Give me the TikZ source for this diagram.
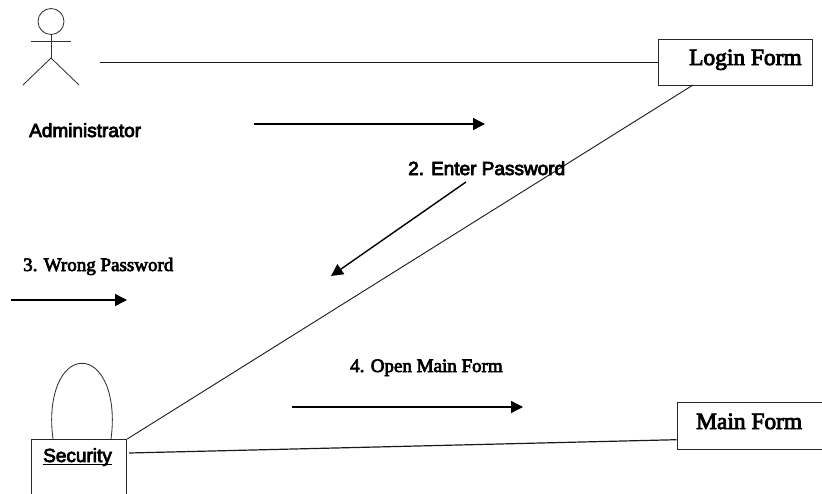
\documentclass[tikz,border=0pt]{standalone}
\usepackage{fontspec}
\setmainfont{Liberation Serif}
\setsansfont{Liberation Sans}
\font\sansbold="Liberation Sans:embolden=4" at 19pt
\font\serifbold="Liberation Serif:embolden=3.5" at 19pt
\font\formbold="Liberation Serif:embolden=3.5" at 23.4pt
\usetikzlibrary{arrows.meta,calc}
\tikzset{
  x=1pt,y=-1pt,
  boxed/.style={draw=black!85,line width=0.9pt,fill=none,rectangle,inner sep=0pt,anchor=north west},
  link/.style={draw=black!90,line width=0.9pt},
  msg/.style={draw=black,line width=1.4pt,-{Stealth[length=12pt,width=12pt,inset=0pt]}},
  stick/.style={draw=black!80,line width=0.85pt},
  sanslabel/.style={inner sep=0pt,anchor=base west,font=\sansbold},
  seriflabel/.style={inner sep=0pt,anchor=base west,font=\serifbold},
  formlabel/.style={inner sep=0pt,anchor=base west,font=\formbold}
}
\begin{document}
\begin{tikzpicture}
\useasboundingbox (0,0) rectangle (822,493);
\clip (0,0) rectangle (822,493);
% actor
\node[draw=black!80,line width=0.85pt,circle,minimum size=26pt,inner sep=0pt] (head) at (51,21.5) {};
\coordinate (hip) at (51,58);
\coordinate (armL) at (31,41);
\coordinate (armR) at (71,41);
\coordinate (footL) at (23,85);
\coordinate (footR) at (79,85);
\draw[stick] (head.south) -- (hip);
\draw[stick] (armL) -- (armR);
\draw[stick] (footL) -- (hip) -- (footR);
\node[sanslabel] (admin) at (29,137) {Administrator};
% boxes
\node[boxed,minimum width=154.5pt,minimum height=46.5pt] (login) at (657.8,38.5) {};
\node[formlabel] (logintext) at (689,65) {Login Form};
\node[boxed,minimum width=200pt,minimum height=47pt] (mainf) at (676.5,402) {};
\node[formlabel] (maintext) at (696,429) {Main Form};
\node[boxed,minimum width=95pt,minimum height=100pt] (sec) at (31.3,439) {};
\node[sanslabel] (sectext) at (43,462) {\rlap{\rule[-3.4pt]{69pt}{1.2pt}}Security};
% self loop
\coordinate (loopL) at (53,439);
\coordinate (loopR) at (111,439);
\draw[stick] (loopL) .. controls (47,395) and (62,363.3) .. (82,363.3) .. controls (102,363.3) and (117,395) .. (loopR);
% links
\coordinate (adminend) at (100,62.5);
\coordinate (secout) at (129,453);
\coordinate (loginout) at (693,85);
\coordinate (loginin) at (login.north west |- adminend);
\coordinate (mainin) at ($(mainf.north west)+(0,37.7)$);
\draw[link] (adminend) -- (loginin);
\draw[link] (sec.north east) -- (loginout);
\draw[link,line width=1.2pt] (secout) -- (mainin);
% messages
\coordinate (m1a) at (254,124);
\coordinate (m1b) at (485,124);
\coordinate (m2a) at (466,182);
\coordinate (m2b) at (331,276);
\coordinate (m3a) at (11,300);
\coordinate (m3b) at (127,300);
\coordinate (m4a) at (292,407);
\coordinate (m4b) at (523,407);
\draw[msg] (m1a) -- (m1b);
\draw[msg] (m2a) -- (m2b);
\draw[msg] (m3a) -- (m3b);
\draw[msg] (m4a) -- (m4b);
% labels
\node[sanslabel] (l2) at (408,175) {2. Enter Password};
\node[seriflabel] (l3) at (23,271) {3. Wrong Password};
\node[seriflabel] (l4) at (350,372) {4. Open Main Form};
\end{tikzpicture}
\end{document}
